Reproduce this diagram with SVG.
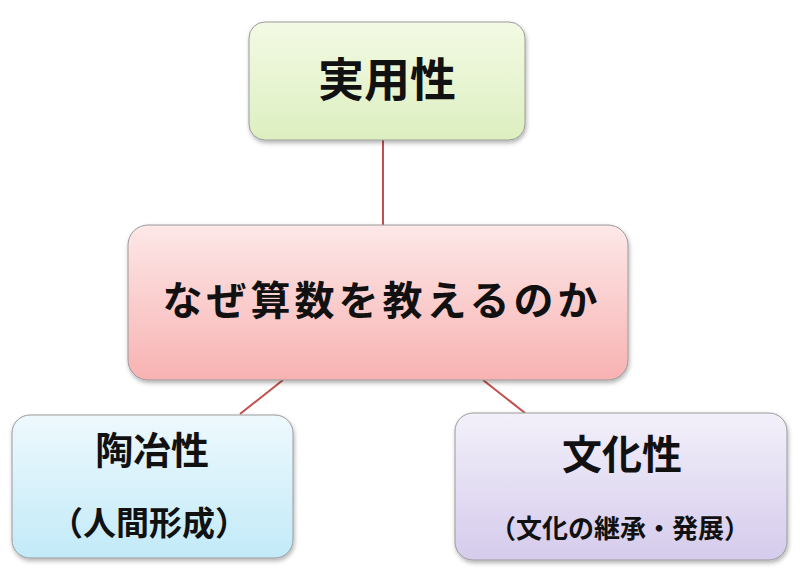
<svg xmlns="http://www.w3.org/2000/svg" width="800" height="571" viewBox="0 0 800 571">
<defs>
<linearGradient id="gGreen" x1="0" y1="0" x2="0" y2="1"><stop offset="0" stop-color="#f3fae4"/><stop offset="1" stop-color="#ddefc0"/></linearGradient>
<linearGradient id="gPink" x1="0" y1="0" x2="0" y2="1"><stop offset="0" stop-color="#fde8e8"/><stop offset="1" stop-color="#f8b2b2"/></linearGradient>
<linearGradient id="gBlue" x1="0" y1="0" x2="0" y2="1"><stop offset="0" stop-color="#eef9fd"/><stop offset="1" stop-color="#c2eaf8"/></linearGradient>
<linearGradient id="gPurple" x1="0" y1="0" x2="0" y2="1"><stop offset="0" stop-color="#f3f0fa"/><stop offset="1" stop-color="#d5cbec"/></linearGradient>
<filter id="sh" x="-10%" y="-10%" width="120%" height="130%"><feDropShadow dx="1" dy="2.5" stdDeviation="2" flood-color="#000" flood-opacity="0.3"/></filter>
</defs>
<style>
.box{stroke:#9a9a9a;stroke-width:1;filter:url(#sh)}
.t{font-family:"Noto Sans CJK JP","Noto Sans CJK SC",sans-serif;font-weight:bold;fill:#111;text-anchor:middle;dominant-baseline:central}
.conn{stroke:#c0504d;stroke-width:2;fill:none}
</style>
<g id="connectors">
<line class="conn" x1="383" y1="140" x2="383" y2="225"/>
<line class="conn" x1="283" y1="380" x2="240" y2="414"/>
<line class="conn" x1="483" y1="380" x2="525" y2="413"/>
</g>
<g id="node-jitsuyou">
<rect class="box" x="249" y="22" width="276" height="118" rx="16" fill="url(#gGreen)"/>
<text class="t" x="387" y="76" font-size="46">実用性</text>
</g>
<g id="node-naze">
<rect class="box" x="128" y="225" width="500" height="155" rx="20" fill="url(#gPink)"/>
<text class="t" x="382" y="298" font-size="40" letter-spacing="4">なぜ算数を教えるのか</text>
</g>
<g id="node-touya">
<rect class="box" x="12" y="415" width="281" height="143" rx="18" fill="url(#gBlue)"/>
<text class="t" x="152" y="447" font-size="38">陶冶性</text>
<text class="t" x="149" y="521" font-size="33">（人間形成）</text>
</g>
<g id="node-bunka">
<rect class="box" x="455" y="413" width="332" height="147" rx="18" fill="url(#gPurple)"/>
<text class="t" x="622" y="452" font-size="40">文化性</text>
<text class="t" x="620" y="526" font-size="26">（文化の継承・発展）</text>
</g>
</svg>
